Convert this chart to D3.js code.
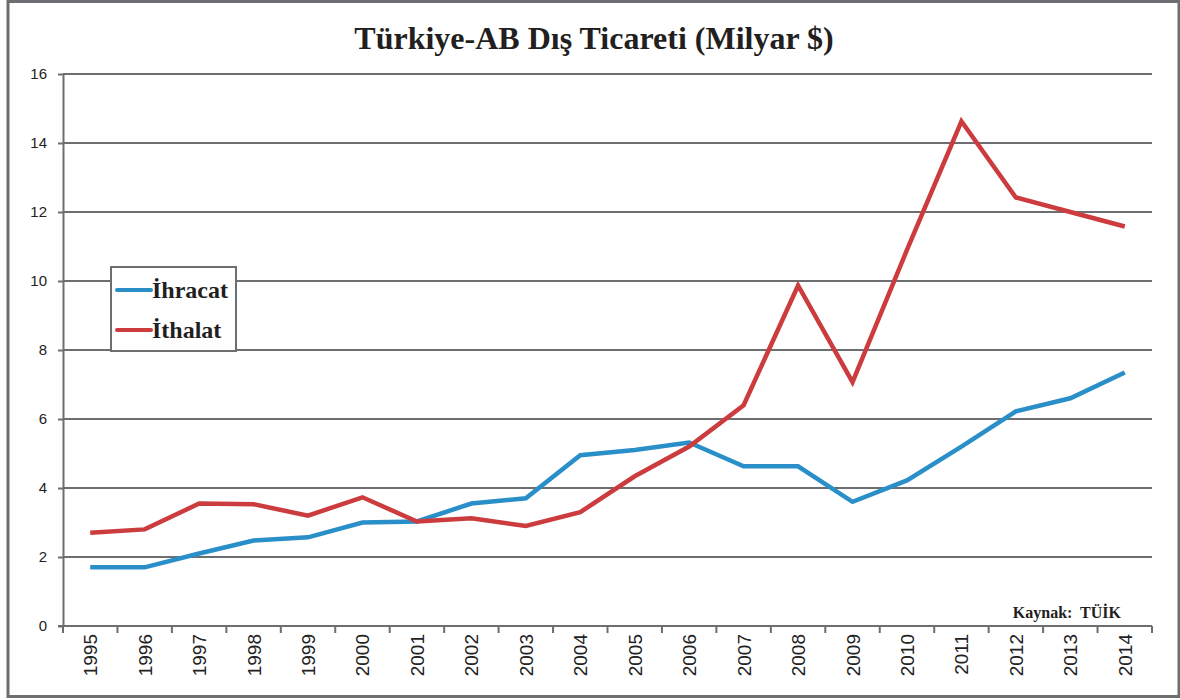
<!DOCTYPE html>
<html>
<head>
<meta charset="utf-8">
<script src="https://cdn.jsdelivr.net/npm/d3@7"></script>
<style>
  body { margin: 0; background: #fff; }
  svg { display: block; }
  .grid line { stroke: #6d6e71; stroke-width: 2; }
  .axis path, .axis line { stroke: #6d6e71; stroke-width: 2; }
  .axis text { font-family: "Liberation Sans", Arial, sans-serif; fill: #222; }
</style>
</head>
<body>
<svg id="chart" width="1180" height="700"></svg>
<script>
const years = ["1995","1996","1997","1998","1999","2000","2001","2002","2003","2004",
  "2005","2006","2007","2008","2009","2010","2011","2012","2013","2014"]
const ihracat = [1.7, 1.7, 2.1, 2.48, 2.57, 3.0, 3.03, 3.55, 3.7, 4.95,
  5.1, 5.32, 4.63, 4.63, 3.6, 4.22, 5.2, 6.22, 6.6, 7.35]
const ithalat = [2.7, 2.8, 3.55, 3.53, 3.2, 3.73, 3.03, 3.12, 2.9, 3.3,
  4.34, 5.2, 6.4, 9.87, 7.07, 10.9, 14.63, 12.42, 12.0, 11.58]
const yTicks = [0, 2, 4, 6, 8, 10, 12, 14, 16]

const series = [
  { name: "İhracat", values: ihracat, color: "#2a8fc9" },
  { name: "İthalat", values: ithalat, color: "#cc3b3d" }
]

const svg = d3.select("#chart")
const M = { left: 63, right: 1152, top: 74, bottom: 626 }

// outer frame
svg.append("rect").attr("x", 8).attr("y", 1.5).attr("width", 1171).attr("height", 695)
  .attr("fill", "none").attr("stroke", "#6d6e71").attr("stroke-width", 3)

svg.append("text").attr("x", 594).attr("y", 49).attr("text-anchor", "middle")
  .style("font-family", "'Liberation Serif', 'Times New Roman', serif")
  .style("font-weight", "bold").style("font-size", "32px").attr("fill", "#231f20")
  .text("Türkiye-AB Dış Ticareti (Milyar $)")

const x = d3.scaleBand().domain(years).range([M.left, M.right])
const y = d3.scaleLinear().domain([0, 16]).range([M.bottom, M.top])

// gridlines
svg.append("g").attr("class", "grid").selectAll("line")
  .data(yTicks.filter(d => d > 0)).enter().append("line")
  .attr("x1", M.left).attr("x2", M.right)
  .attr("y1", d => y(d)).attr("y2", d => y(d))

const yAxis = svg.append("g").attr("class", "axis")
  .attr("transform", `translate(${M.left},0)`)
  .call(d3.axisLeft(y).tickValues(yTicks).tickSize(5).tickPadding(11).tickSizeOuter(0))
yAxis.selectAll("text").style("font-size", "15px")

// x axis with ticks at band edges
const xAxis = svg.append("g").attr("class", "axis")
  .attr("transform", `translate(0,${M.bottom})`)
xAxis.append("line").attr("x1", M.left - 5).attr("x2", M.right).attr("y1", 0).attr("y2", 0)
xAxis.selectAll(".edge").data(years.concat(["end"])).enter().append("line")
  .attr("class", "edge")
  .attr("x1", (d, i) => M.left + i * x.step()).attr("x2", (d, i) => M.left + i * x.step())
  .attr("y1", 0).attr("y2", 7)
xAxis.selectAll(".lab").data(years).enter().append("text")
  .attr("class", "lab")
  .attr("transform", d => `translate(${x(d) + x.bandwidth() / 2 + 7},${8}) rotate(-90)`)
  .attr("text-anchor", "end")
  .style("font-size", "19px")
  .text(d => d)

const line = d3.line()
  .x((d, i) => x(years[i]) + x.bandwidth() / 2)
  .y(d => y(d))

series.forEach(s => {
  svg.append("path").datum(s.values)
    .attr("fill", "none").attr("stroke", s.color).attr("stroke-width", 4.5)
    .attr("stroke-linejoin", "miter").attr("d", line)
})

// legend
const leg = svg.append("g").attr("transform", "translate(111,267)")
leg.append("rect").attr("width", 125).attr("height", 84)
  .attr("fill", "#fff").attr("stroke", "#6d6e71").attr("stroke-width", 2)
series.forEach((s, i) => {
  const ly = 23 + i * 40
  leg.append("line").attr("x1", 6).attr("x2", 40).attr("y1", ly).attr("y2", ly)
    .attr("stroke", s.color).attr("stroke-width", 4).attr("stroke-linecap", "round")
  leg.append("text").attr("x", 41).attr("y", ly + 8)
    .style("font-family", "'Liberation Serif', 'Times New Roman', serif")
    .style("font-weight", "bold").style("font-size", "24px").attr("fill", "#231f20")
    .text(s.name)
})

svg.append("text").attr("x", 1121).attr("y", 618).attr("text-anchor", "end")
  .style("font-family", "'Liberation Serif', 'Times New Roman', serif")
  .style("white-space", "pre")
  .style("font-weight", "bold").style("font-size", "16px").attr("fill", "#231f20")
  .text("Kaynak:  TÜİK")
</script>
</body>
</html>
